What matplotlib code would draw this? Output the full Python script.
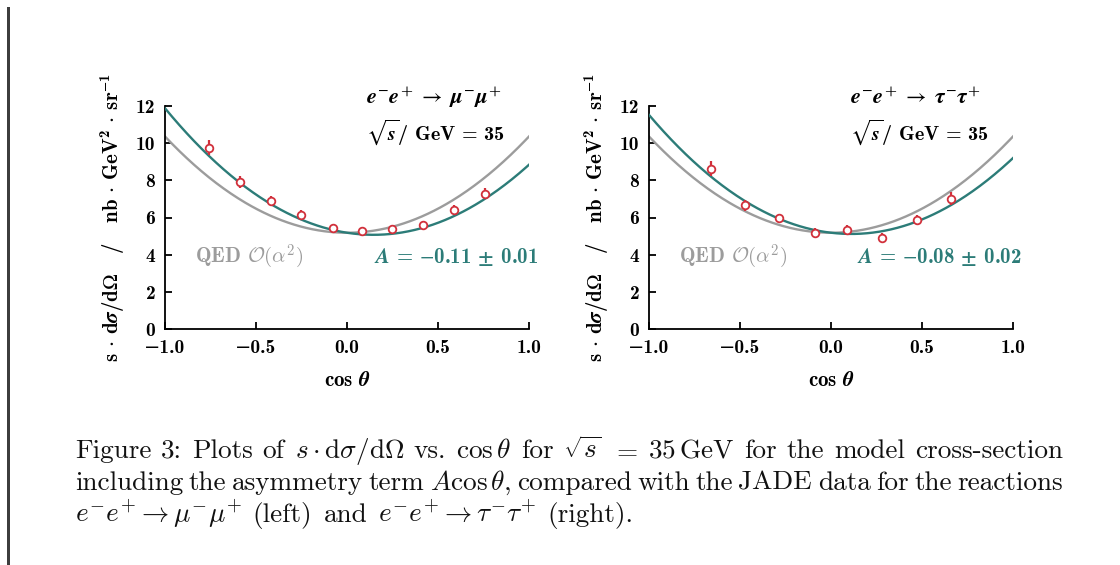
import numpy as np
import matplotlib
matplotlib.use("Agg")
import matplotlib.pyplot as plt
from matplotlib.patches import Rectangle
from matplotlib.transforms import IdentityTransform

# ---------------- data ----------------
mu_cos = [-0.758, -0.588, -0.419, -0.251, -0.079, 0.081, 0.249, 0.418, 0.588, 0.758]
mu_val = [9.75, 7.92, 6.90, 6.13, 5.41, 5.25, 5.39, 5.59, 6.43, 7.29]
mu_err = [0.41, 0.31, 0.25, 0.26, 0.22, 0.23, 0.22, 0.22, 0.25, 0.30]

tau_cos = [-0.660, -0.472, -0.283, -0.090, 0.088, 0.279, 0.470, 0.661]
tau_val = [8.62, 6.66, 5.96, 5.17, 5.34, 4.92, 5.87, 7.01]
tau_err = [0.40, 0.29, 0.25, 0.27, 0.27, 0.25, 0.25, 0.36]

# model parameters: s dsigma/dOmega = C (1 + cos^2 + 8/3 A cos)
C_norm = 5.18
A_mu = -0.110
A_tau = -0.084

xticks = [-1.0, -0.5, 0.0, 0.5, 1.0]
yticks = [0, 2, 4, 6, 8, 10, 12]

label_mu = [r"$e^{-}e^{+}\;\rightarrow\;\mu^{-}\mu^{+}$", r"$\sqrt{s}$/ GeV = 35",
            r"$A$ = $-$0.11 $\mathbf{\pm}$ 0.01"]
label_tau = [r"$e^{-}e^{+}\;\rightarrow\;\tau^{-}\tau^{+}$", r"$\sqrt{s}$/ GeV = 35",
             r"$A$ = $-$0.08 $\mathbf{\pm}$ 0.02"]

TEAL = "#2c7c78"
GRAY = "#9c9c9c"
RED = "#d1303b"

plt.rcParams["font.family"] = ["cmb10", "DejaVu Serif"]
plt.rcParams["mathtext.fontset"] = "custom"
plt.rcParams["mathtext.rm"] = "cmb10"
plt.rcParams["mathtext.bf"] = "STIXGeneral:bold"
plt.rcParams["mathtext.it"] = "STIXGeneral:italic:bold"
plt.rcParams["mathtext.cal"] = "cmsy10"
plt.rcParams["mathtext.fallback"] = "stix"
plt.rcParams["axes.unicode_minus"] = True

W, H = 1120, 565
fig = plt.figure(figsize=(W / 100, H / 100), dpi=100)
fig.patch.set_facecolor("white")
fig.add_artist(Rectangle((7 / W, 0), 3 / W, (H - 7) / H, transform=fig.transFigure,
                         facecolor="#3d3d3d", edgecolor="none"))

FS_TICK = 14
FS_TXT = 15

def panel(left_px, cosv, vals, errs, A, labels):
    ax = fig.add_axes([left_px / W, 1 - 329 / H, 364 / W, 223 / H])
    ax.set_xlim(-1, 1)
    ax.set_ylim(0, 12)
    c = np.linspace(-1, 1, 300)
    ax.plot(c, C_norm * (1 + c ** 2), color=GRAY, lw=1.7, zorder=2)
    ax.plot(c, C_norm * (1 + c ** 2 + 8.0 / 3.0 * A * c), color=TEAL, lw=1.7, zorder=3)
    ax.errorbar(cosv, vals, yerr=errs, fmt="o", ms=5.5, mfc="white", mec=RED, mew=1.3,
                ecolor=RED, elinewidth=1.6, capsize=0, zorder=4)
    for s in ["top", "right"]:
        ax.spines[s].set_visible(False)
    for s in ["left", "bottom"]:
        ax.spines[s].set_linewidth(1.3)
    ax.set_xticks(xticks)
    ax.set_xticklabels([f"{v:.1f}".replace("-", "\u2212") for v in xticks])
    ax.set_yticks(yticks)
    ax.set_yticklabels([str(v) for v in yticks])
    ax.tick_params(direction="in", length=5, width=1.3, labelsize=FS_TICK)
    ax.tick_params(axis="x", pad=7)
    ax.tick_params(axis="y", pad=7)
    ax.set_facecolor("none")
    ax.text(0.107, 12.49, labels[0], fontsize=16, ha="left", va="center", clip_on=False)
    ax.text(0.107, 10.6, labels[1], fontsize=14.5, ha="left", va="center", clip_on=False)
    ax.text(-0.837, 3.87, r"QED $\mathcal{O}(\alpha^{2})$", fontsize=FS_TXT, color=GRAY,
            ha="left", va="center", math_fontfamily="cm")
    ax.text(1.05, 3.87, labels[2], fontsize=FS_TXT, color=TEAL, ha="right", va="center",
            clip_on=False)
    ax.text(-0.143, 0.5,
            r"s $\cdot$ d$\sigma$/d$\Omega$   /   nb $\cdot$ GeV$^{2}$ $\cdot$ sr$^{-1}$",
            transform=ax.transAxes, rotation=90, ha="center", va="center", fontsize=FS_TXT)
    ax.text(0.5, -0.229, r"cos $\theta$", transform=ax.transAxes, ha="center", va="center",
            fontsize=FS_TXT)
    return ax

panel(165, mu_cos, mu_val, mu_err, A_mu, label_mu)
panel(649, tau_cos, tau_val, tau_err, A_tau, label_tau)

# ---------------- caption ----------------
cap_lines = [
    ["Figure", "3:", "Plots", "of", r"$s\cdot\mathrm{d}\sigma/\mathrm{d}\Omega$", "vs.",
     r"$\cos\theta$", "for", r"$\sqrt{s}$", r"$=$", r"$35\,$GeV", "for", "the", "model",
     "cross-section"],
    ["including", "the", "asymmetry", "term", r"$A\cos\theta$,", "compared", "with", "the",
     "JADE", "data", "for", "the", "reactions"],
    [r"$e^{-}e^{+}\rightarrow\mu^{-}\mu^{+}$", "(left)", "and",
     r"$e^{-}e^{+}\rightarrow\tau^{-}\tau^{+}$", "(right)."],
]
cap_base = [458, 490, 522]
cap_justify = [True, True, False]
x0, x1 = 75, 1063
fs = 19.6
renderer = fig.canvas.get_renderer()
for toks, yb, just in zip(cap_lines, cap_base, cap_justify):
    ts = [fig.text(0, 0, t, transform=IdentityTransform(), ha="left", va="baseline",
                   fontsize=fs, family=["cmr10", "DejaVu Serif"], math_fontfamily="cm",
                   color="#111111")
          for t in toks]
    ws = [t.get_window_extent(renderer).width for t in ts]
    gap = (x1 - x0 - sum(ws)) / (len(ts) - 1) if just else fs * 0.40 * 100 / 72
    x = x0
    for t, w in zip(ts, ws):
        t.set_position((x, H - yb))
        x += w + gap

fig.savefig("out.png", dpi=100, facecolor="white")
